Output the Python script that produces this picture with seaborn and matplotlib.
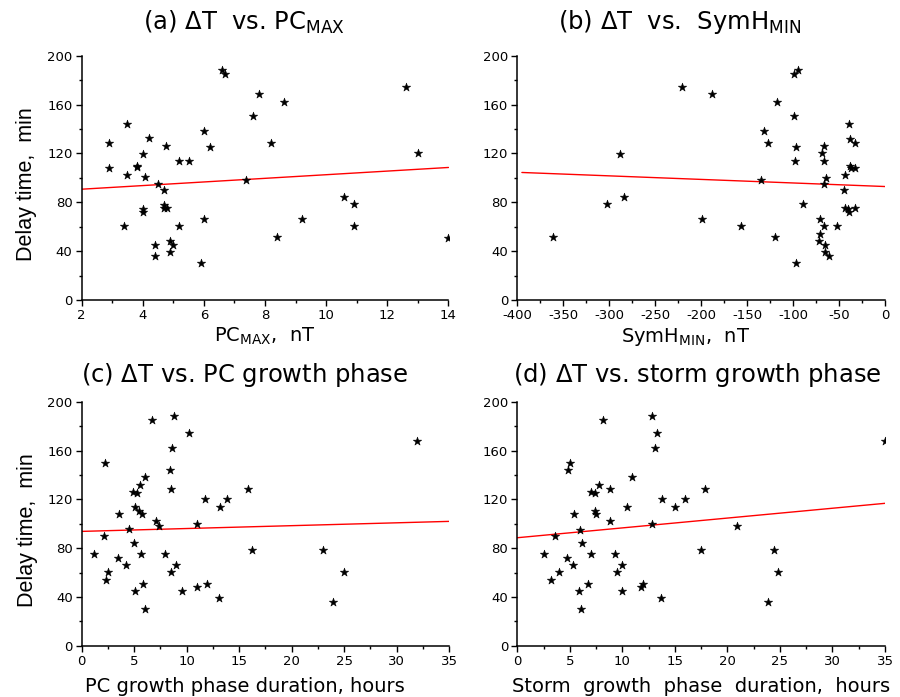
import numpy as np
import pandas as pd
import matplotlib
matplotlib.use("Agg")
import matplotlib.pyplot as plt
from matplotlib.ticker import MultipleLocator
import seaborn as sns

# ---- data ----
pc_max = [6.58, 6.70, 7.80, 7.60, 3.49, 6.0, 2.89, 4.20, 4.75, 6.19, 4.0, 5.19, 5.50,
          2.89, 3.80, 3.80, 3.49, 4.09, 7.39, 4.51, 4.69, 4.70, 4.70, 4.81, 4.0, 4.0,
          5.99, 3.39, 5.19, 4.40, 4.90, 5.0, 4.40, 4.90, 5.90, 8.61, 8.20, 12.60,
          12.99, 10.59, 10.90, 9.21, 10.90, 8.40, 14.0]
delay_a = [188.5, 185.2, 168.6, 150.3, 144.3, 138.2, 128.4, 132.5, 126.2, 125.4, 119.9,
           114.2, 114.2, 108.2, 110.1, 108.5, 102.5, 100.3, 98.4, 95.3, 90.2, 78.1, 75.4,
           75.4, 74.9, 71.9, 66.1, 60.4, 60.4, 45.4, 48.1, 45.4, 36.3, 39.3, 30.3, 162.0,
           128.4, 174.3, 120.2, 84.4, 78.4, 66.1, 60.4, 51.4, 50.5]

symh_min = [-220.3, -287.8, -283.4, -302.7, -361.5, -99.4, -94.7, -188.4, -117.2, -99.1,
            -131.4, -127.4, -96.5, -97.6, -39.1, -38.0, -32.6, -66.7, -68.2, -66.0,
            -38.4, -36.6, -33.0, -43.9, -63.8, -135.4, -66.7, -45.0, -89.3, -43.5,
            -40.2, -39.5, -32.2, -199.3, -71.1, -66.7, -52.2, -156.8, -71.1, -71.8,
            -64.9, -119.8, -64.9, -60.9, -97.2]
delay_b = [174.3, 119.9, 84.4, 78.4, 51.4, 185.2, 188.0, 168.6, 162.3, 150.3, 138.2,
           128.4, 125.4, 114.2, 144.3, 132.2, 128.4, 126.2, 120.2, 114.2, 110.1, 108.2,
           108.2, 102.5, 100.0, 98.1, 95.1, 90.2, 78.4, 75.4, 74.9, 72.1, 75.4, 66.1,
           66.1, 60.4, 60.4, 60.4, 54.1, 48.4, 45.4, 51.4, 39.3, 36.3, 30.3]

pc_growth = [6.72, 8.84, 10.27, 8.56, 2.19, 8.37, 5.99, 5.58, 8.49, 4.85, 5.26, 15.87,
             11.79, 13.88, 13.15, 5.10, 3.58, 5.48, 5.70, 7.07, 7.41, 10.96, 4.50, 2.12,
             5.01, 1.20, 5.67, 7.95, 16.25, 3.49, 4.18, 8.97, 2.50, 8.49, 2.31, 5.80,
             5.10, 9.51, 10.96, 11.95, 13.05, 5.99, 31.95, 22.98, 24.98, 23.99]
delay_c = [185.0, 188.0, 174.0, 162.0, 150.0, 143.7, 138.2, 132.0, 128.1, 126.2, 124.9,
           128.1, 119.9, 119.9, 113.9, 113.9, 108.2, 110.4, 108.2, 102.2, 98.1, 100.0,
           95.3, 89.9, 84.4, 74.9, 74.9, 74.9, 78.1, 72.1, 66.1, 66.1, 60.1, 60.1, 54.1,
           50.8, 45.1, 45.1, 47.8, 50.8, 39.1, 30.1, 168.0, 78.1, 60.1, 36.1]

storm_growth = [8.11, 12.80, 13.28, 13.15, 5.01, 4.78, 10.96, 7.76, 6.97, 7.41, 8.84,
                13.78, 15.05, 15.97, 10.46, 5.42, 7.41, 7.51, 8.78, 12.80, 5.99, 3.61,
                6.18, 2.50, 6.97, 9.32, 4.69, 5.29, 10.01, 3.99, 9.51, 3.20, 6.72, 5.83,
                10.01, 11.76, 11.98, 13.66, 6.08, 17.53, 17.91, 20.92, 24.44, 24.85,
                23.90, 35.0]
delay_d = [185.0, 188.0, 174.0, 162.0, 150.0, 143.7, 138.0, 131.7, 126.0, 124.9, 128.1,
           119.9, 113.9, 119.9, 113.9, 108.2, 110.4, 108.2, 102.2, 100.0, 95.1, 89.9,
           84.4, 74.9, 74.9, 74.9, 71.9, 65.8, 66.1, 60.1, 60.1, 54.1, 50.8, 45.1, 45.1,
           47.8, 50.8, 39.1, 29.8, 78.1, 128.1, 98.1, 78.1, 60.1, 36.1, 168.0]

# linear fit lines (endpoints)
fit_a_x, fit_a_y = [2, 14], [90.7, 108.5]
fit_b_x, fit_b_y = [-395, 0], [104.4, 92.9]
fit_c_x, fit_c_y = [0, 35], [93.7, 101.9]
fit_d_x, fit_d_y = [0, 35], [88.5, 116.7]

titles = [r"(a) $\Delta$T  vs. PC$_{\mathrm{MAX}}$",
          r"(b) $\Delta$T  vs.  SymH$_{\mathrm{MIN}}$",
          r"(c) $\Delta$T vs. PC growth phase",
          r"(d) $\Delta$T vs. storm growth phase"]
xlabels = [r"PC$_{\mathrm{MAX}}$,  nT", r"SymH$_{\mathrm{MIN}}$,  nT",
           "PC growth phase duration, hours", "Storm  growth  phase  duration,  hours"]
ylabel = "Delay time,  min"

# ---- style ----
sns.set_theme(style="ticks")
plt.rcParams["font.family"] = ["DejaVu Sans"]
plt.rcParams["mathtext.fontset"] = "dejavusans"
plt.rcParams["axes.unicode_minus"] = False
plt.rcParams["text.color"] = "black"
plt.rcParams["axes.labelcolor"] = "black"
plt.rcParams["xtick.color"] = "black"
plt.rcParams["ytick.color"] = "black"

fig = plt.figure(figsize=(9, 6.97), dpi=100)
W, H = 900, 697
boxes = [(81.5, 448.5, 55.7, 300.0), (517.3, 885.0, 55.7, 300.0),
         (81.7, 449.0, 401.7, 645.7), (517.3, 885.0, 401.7, 645.7)]
axes = []
for (l, r, t, b) in boxes:
    axes.append(fig.add_axes([l / W, 1 - b / H, (r - l) / W, (b - t) / H]))

panels = [
    (pc_max, delay_a, fit_a_x, fit_a_y, (2, 14), 2, 1),
    (symh_min, delay_b, fit_b_x, fit_b_y, (-400, 0), 50, 25),
    (pc_growth, delay_c, fit_c_x, fit_c_y, (0, 35), 5, 2.5),
    (storm_growth, delay_d, fit_d_x, fit_d_y, (0, 35), 5, 2.5),
]
title_x = [0.443, 0.443, 0.443, 0.49]
title_pad = [19, 19, 14, 14]
xlabel_x = [0.5, 0.459, 0.443, 0.5]
xlabel_pad = [3, 3, 7, 7]

for i, (ax, (xs, ys, fx, fy, xlim, xmaj, xmin)) in enumerate(zip(axes, panels)):
    df = pd.DataFrame({"x": xs, "y": ys})
    sns.lineplot(x=fx, y=fy, ax=ax, color="red", linewidth=1.0, zorder=2)
    sns.scatterplot(data=df, x="x", y="y", ax=ax, marker="*", s=40, color="black",
                    edgecolor="black", linewidth=0.4, zorder=3, clip_on=True)
    ax.set_xlim(*xlim)
    ax.set_ylim(0, 200)
    ax.xaxis.set_major_locator(MultipleLocator(xmaj))
    ax.xaxis.set_minor_locator(MultipleLocator(xmin))
    ax.yaxis.set_major_locator(MultipleLocator(40))
    ax.yaxis.set_minor_locator(MultipleLocator(20))
    ax.tick_params(which="major", direction="out", length=4, width=1, labelsize=9.5,
                   colors="black", pad=2.5)
    ax.tick_params(which="minor", direction="out", length=2.5, width=1, colors="black")
    sns.despine(ax=ax)
    for s in ("left", "bottom"):
        ax.spines[s].set_linewidth(1.1)
        ax.spines[s].set_color("black")
    ax.set_xlabel(xlabels[i], fontsize=14, labelpad=xlabel_pad[i], color="black")
    ax.xaxis.label.set_x(xlabel_x[i])
    if i in (0, 2):
        ax.set_ylabel(ylabel, fontsize=15.5, labelpad=7, color="black",
                      family=["Liberation Sans", "DejaVu Sans"])
        ax.yaxis.label.set_y(0.475)
    else:
        ax.set_ylabel("")
    ax.set_title(titles[i], fontsize=17.5, pad=title_pad[i], x=title_x[i], color="black")

fig.savefig("out.png", dpi=100)
